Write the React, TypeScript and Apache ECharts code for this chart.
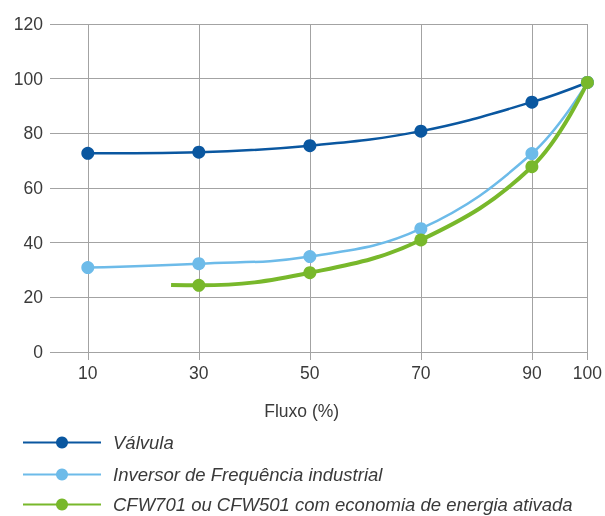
import React, { useEffect, useRef } from "react";
import * as echarts from "echarts";

const xTicks = [10, 30, 50, 70, 90, 100];
const yMax = 120;
const seriesNames = [
  "Válvula",
  "Inversor de Frequência industrial",
  "CFW701 ou CFW501 com economia de energia ativada",
];
const valvulaX = [10, 30, 50, 70, 90, 100];
const valvulaY = [72.7, 73.1, 75.5, 80.8, 91.4, 98.6];
const inversorX = [10, 30, 50, 70, 90, 100];
const inversorY = [30.9, 32.3, 34.9, 45.1, 72.6, 98.6];
const cfwX = [25, 30, 50, 70, 90, 100];
const cfwY = [24.5, 24.4, 29.0, 41.0, 67.8, 98.6];
const colors = ["#0a57a0", "#6dbbe9", "#78b82b"];

export default function App() {
  const ref = useRef<HTMLDivElement>(null);
  useEffect(() => {
    if (!ref.current) return;
    const chart = echarts.init(ref.current, undefined, { renderer: "svg" });
    const font = "'Liberation Sans', Arial, Helvetica, sans-serif";
    const gridColor = "#a3a3a3";
    const textColor = "#3a3a3a";
    const mk = (xs: number[], ys: number[], noSymbolFirst: boolean) =>
      xs.map((x, i) =>
        noSymbolFirst && i === 0
          ? { value: [x, ys[i]], symbol: "none" }
          : { value: [x, ys[i]] }
      );
    const legendTops = [433, 465, 495];
    const legends = seriesNames.map((n, i) => ({
      orient: "vertical",
      left: 22,
      top: legendTops[i],
      padding: 0,
      itemWidth: 78,
      itemHeight: 15,
      selectedMode: false,
      textStyle: {
        color: textColor,
        fontSize: 18.5,
        lineHeight: 18,
        fontStyle: "italic",
        fontFamily: font,
        padding: [0, 0, 0, 7],
      },
      data: [n],
    }));
    chart.setOption({
      animation: false,
      color: colors,
      textStyle: { fontFamily: font },
      grid: { left: 50, right: 15, top: 24, bottom: 164 },
      xAxis: {
        type: "value",
        min: 3.19,
        max: 100,
        name: "Fluxo (%)",
        nameLocation: "middle",
        nameGap: 50,
        nameTextStyle: {
          color: textColor,
          fontSize: 17.5,
          fontFamily: font,
          padding: [0, 34, 0, 0],
        },
        axisLine: { show: false },
        axisTick: {
          show: true,
          length: 8,
          customValues: xTicks,
          lineStyle: { color: gridColor, width: 1 },
        },
        axisLabel: {
          customValues: xTicks,
          color: textColor,
          fontSize: 17.5,
          margin: 12,
          fontFamily: font,
        },
        splitLine: { show: true, lineStyle: { color: gridColor, width: 1 } },
      },
      yAxis: {
        type: "value",
        min: 0,
        max: yMax,
        interval: 20,
        axisLine: { show: false },
        axisTick: { show: false },
        axisLabel: { color: textColor, fontSize: 17.5, margin: 7, fontFamily: font },
        splitLine: { show: true, lineStyle: { color: gridColor, width: 1 } },
      },
      legend: legends,
      series: [
        {
          name: seriesNames[0],
          type: "line",
          smooth: 0.4,
          symbol: "circle",
          symbolSize: 13,
          lineStyle: { width: 2.5, color: colors[0] },
          itemStyle: { color: colors[0] },
          data: mk(valvulaX, valvulaY, false),
          z: 3,
        },
        {
          name: seriesNames[1],
          type: "line",
          smooth: 0.4,
          symbol: "circle",
          symbolSize: 13,
          lineStyle: { width: 2.5, color: colors[1] },
          itemStyle: { color: colors[1] },
          data: mk(inversorX, inversorY, false),
          z: 4,
        },
        {
          name: seriesNames[2],
          type: "line",
          smooth: 0.4,
          symbol: "circle",
          symbolSize: 13,
          lineStyle: { width: 4, color: colors[2] },
          itemStyle: { color: colors[2] },
          data: mk(cfwX, cfwY, true),
          z: 5,
        },
      ],
    });
    return () => chart.dispose();
  }, []);
  return (
    <div
      ref={ref}
      style={{ position: "fixed", left: 0, top: 0, width: 605, height: 516 }}
    />
  );
}
